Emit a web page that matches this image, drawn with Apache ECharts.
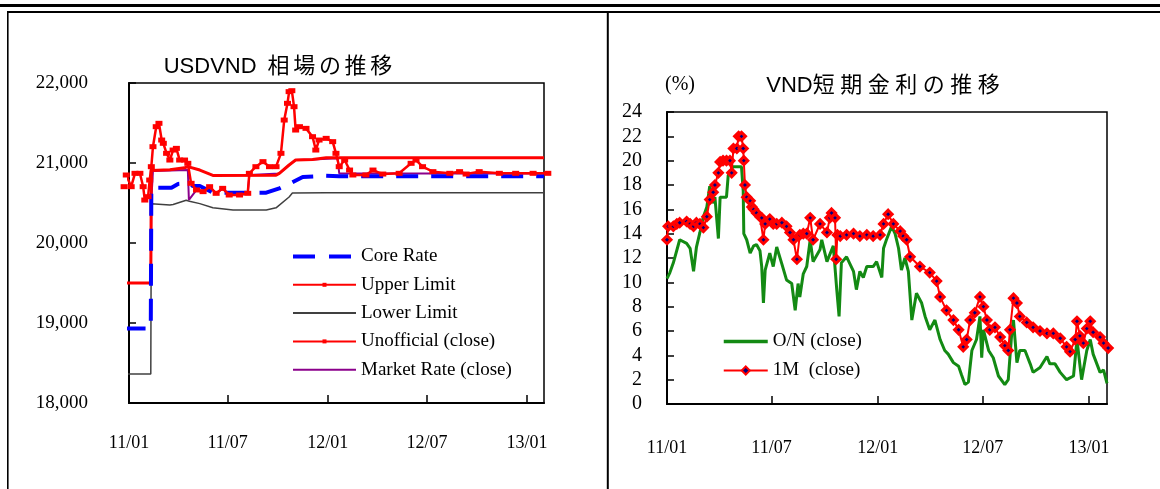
<!DOCTYPE html>
<html><head><meta charset="utf-8">
<script src="https://cdn.jsdelivr.net/npm/echarts@6/dist/echarts.min.js"></script>
<style>html,body{margin:0;padding:0;background:#fff}#c{width:1160px;height:489px}</style>
</head><body><div id="c"></div>
<script>
// ---------- tick labels ----------
const xTickDates = ['2011-01-01','2011-07-01','2012-01-01','2012-07-01','2013-01-01'];
const xTickLabels = ['11/01','11/07','12/01','12/07','13/01'];
const xMin = '2011-01-01', xMax = '2013-02-01';

// ---------- USDVND chart ----------
const coreRate = [['2010-12-22',18932],['2011-02-10',18932],['2011-02-11',20692],['2011-03-20',20692],['2011-04-01',20738],['2011-04-22',20750],['2011-04-28',20713],['2011-05-11',20713],['2011-06-04',20629],['2011-09-10',20629],['2011-10-04',20683],['2011-10-28',20760],['2011-11-16',20825],['2011-12-29',20840],['2012-01-22',20835],['2013-02-01',20835]];
const upperLimit = [['2010-12-22',19500],['2011-02-10',19500],['2011-02-11',20905],['2011-03-17',20915],['2011-04-13',20940],['2011-04-19',20955],['2011-05-11',20912],['2011-06-04',20845],['2011-09-28',20848],['2011-10-04',20870],['2011-10-22',20975],['2011-11-03',21037],['2011-12-04',21045],['2011-12-29',21065],['2012-02-01',21065],['2013-02-01',21065]];
const lowerLimit = [['2010-12-22',18364],['2011-02-10',18364],['2011-02-11',20490],['2011-03-17',20475],['2011-03-20',20500],['2011-03-23',20482],['2011-04-16',20535],['2011-04-22',20522],['2011-05-11',20492],['2011-06-04',20440],['2011-07-11',20412],['2011-09-10',20412],['2011-09-28',20440],['2011-10-22',20575],['2011-10-28',20625],['2011-12-29',20628],['2013-02-01',20628]];
const unofficial = [['2010-12-23',20704],['2010-12-27',20850],['2011-01-05',20704],['2011-01-12',20871],['2011-01-21',20871],['2011-01-27',20704],['2011-01-30',20537],['2011-02-05',20579],['2011-02-08',20787],['2011-02-11',20954],['2011-02-14',21204],['2011-02-20',21454],['2011-02-25',21496],['2011-03-02',21287],['2011-03-05',21246],['2011-03-11',21121],['2011-03-17',21037],['2011-03-23',21162],['2011-03-29',21183],['2011-04-04',21037],['2011-04-13',21037],['2011-04-19',20996],['2011-04-25',20746],['2011-05-05',20663],['2011-05-17',20642],['2011-05-29',20704],['2011-06-10',20621],['2011-06-22',20683],['2011-07-04',20600],['2011-07-23',20600],['2011-08-07',20621],['2011-08-10',20871],['2011-08-22',20954],['2011-09-04',21017],['2011-09-16',20954],['2011-09-28',20954],['2011-10-07',21121],['2011-10-13',21537],['2011-10-19',21746],['2011-10-22',21892],['2011-10-27',21904],['2011-10-31',21704],['2011-11-03',21412],['2011-11-10',21454],['2011-11-22',21433],['2011-12-04',21329],['2011-12-10',21162],['2011-12-16',21287],['2011-12-29',21308],['2012-01-10',21267],['2012-01-16',21121],['2012-01-22',20954],['2012-02-01',21037],['2012-02-10',20912],['2012-02-16',20850],['2012-03-11',20850],['2012-03-24',20912],['2012-04-11',20862],['2012-05-11',20871],['2012-06-02',20996],['2012-06-11',21037],['2012-06-23',20954],['2012-07-12',20892],['2012-08-12',20871],['2012-08-30',20892],['2012-09-11',20862],['2012-10-05',20892],['2012-11-11',20871],['2012-12-11',20871],['2013-01-12',20871],['2013-02-08',20871]];
const marketRate = [['2010-12-22',19500],['2011-02-10',19500],['2011-02-11',20540],['2011-02-14',20900],['2011-04-19',20912],['2011-04-21',20540],['2011-05-05',20663],['2011-05-17',20642],['2011-05-29',20700],['2011-06-10',20621],['2011-06-22',20680],['2011-07-04',20600],['2011-07-23',20600],['2011-08-07',20621],['2011-08-10',20850],['2011-10-04',20868],['2011-10-22',20975],['2011-11-03',21037],['2011-12-04',21045],['2012-01-19',21060],['2012-01-22',20870],['2013-02-01',20870]];

// ---------- VND rates chart ----------
const rate1M = [['2011-01-01',13.5],['2011-01-03',14.6],['2011-01-12',14.6],['2011-01-18',14.8],['2011-01-23',14.9],['2011-02-04',15.0],['2011-02-10',14.8],['2011-02-16',14.6],['2011-02-21',14.9],['2011-02-27',14.8],['2011-03-05',14.5],['2011-03-11',15.4],['2011-03-16',16.8],['2011-03-22',17.4],['2011-03-25',18.0],['2011-03-31',19.0],['2011-04-03',19.9],['2011-04-08',20.0],['2011-04-14',20.0],['2011-04-20',20.0],['2011-04-23',19.0],['2011-04-26',21.0],['2011-05-02',21.0],['2011-05-05',22.0],['2011-05-10',22.0],['2011-05-13',21.0],['2011-05-14',20.0],['2011-05-16',18.0],['2011-05-19',17.0],['2011-05-25',16.7],['2011-05-28',16.2],['2011-05-31',16.0],['2011-06-05',15.7],['2011-06-11',15.4],['2011-06-14',15.3],['2011-06-17',13.5],['2011-06-20',14.8],['2011-06-28',15.2],['2011-07-04',14.8],['2011-07-10',14.8],['2011-07-19',14.9],['2011-07-27',14.6],['2011-08-02',14.1],['2011-08-08',13.5],['2011-08-14',11.9],['2011-08-19',13.9],['2011-08-25',14.0],['2011-08-31',14.0],['2011-09-06',15.3],['2011-09-11',13.5],['2011-09-23',14.8],['2011-10-05',14.1],['2011-10-10',15.3],['2011-10-13',15.7],['2011-10-19',15.3],['2011-10-21',11.9],['2011-10-23',13.9],['2011-10-28',13.8],['2011-11-08',13.9],['2011-11-20',14.0],['2011-12-01',13.8],['2011-12-13',13.9],['2011-12-24',13.8],['2012-01-05',13.9],['2012-01-11',14.8],['2012-01-19',15.6],['2012-01-28',14.8],['2012-02-09',14.2],['2012-02-14',13.8],['2012-02-20',13.5],['2012-02-26',12.1],['2012-03-14',11.3],['2012-03-31',10.8],['2012-04-12',10.1],['2012-04-18',8.8],['2012-04-29',7.7],['2012-05-11',6.9],['2012-05-20',6.1],['2012-05-28',4.7],['2012-06-03',5.3],['2012-06-09',6.9],['2012-06-17',7.5],['2012-06-26',8.8],['2012-07-02',8.0],['2012-07-08',6.9],['2012-07-13',6.1],['2012-07-22',6.3],['2012-07-31',5.5],['2012-08-08',4.8],['2012-08-14',4.4],['2012-08-17',6.1],['2012-08-23',8.7],['2012-08-29',8.3],['2012-09-03',7.2],['2012-09-15',6.7],['2012-09-26',6.3],['2012-10-08',6.0],['2012-10-20',5.8],['2012-10-31',5.8],['2012-11-12',5.4],['2012-11-23',4.7],['2012-11-29',4.3],['2012-12-08',5.3],['2012-12-11',6.8],['2012-12-16',5.6],['2012-12-22',5.0],['2012-12-28',6.2],['2013-01-03',6.8],['2013-01-08',5.9],['2013-01-20',5.5],['2013-01-26',5.0],['2013-02-03',4.6]];
const rateON = [['2011-01-01',10.3],['2011-01-06',10.8],['2011-01-12',11.6],['2011-01-23',13.5],['2011-01-26',13.5],['2011-02-04',13.2],['2011-02-10',12.8],['2011-02-16',10.9],['2011-02-21',12.9],['2011-02-27',14.1],['2011-03-05',15.4],['2011-03-11',16.2],['2011-03-16',17.9],['2011-03-22',16.5],['2011-03-25',17.0],['2011-03-31',13.6],['2011-04-03',17.0],['2011-04-14',17.0],['2011-04-17',18.8],['2011-04-20',19.0],['2011-04-25',19.5],['2011-05-10',19.5],['2011-05-13',17.5],['2011-05-14',14.0],['2011-05-19',13.5],['2011-05-25',12.4],['2011-05-31',13.0],['2011-06-05',13.1],['2011-06-11',12.6],['2011-06-14',11.3],['2011-06-17',8.3],['2011-06-20',11.0],['2011-06-28',12.4],['2011-07-04',11.3],['2011-07-10',12.9],['2011-07-19',11.5],['2011-07-27',10.2],['2011-08-05',9.9],['2011-08-11',7.7],['2011-08-16',9.9],['2011-08-19',8.8],['2011-08-25',10.7],['2011-08-31',11.3],['2011-09-06',13.5],['2011-09-11',11.7],['2011-09-23',12.7],['2011-09-26',13.5],['2011-10-05',11.7],['2011-10-16',13.0],['2011-10-22',9.4],['2011-10-26',7.2],['2011-10-30',11.6],['2011-11-08',12.1],['2011-11-20',10.9],['2011-11-25',9.4],['2011-12-01',10.9],['2011-12-07',10.4],['2011-12-13',11.3],['2011-12-24',11.3],['2011-12-30',11.7],['2012-01-08',10.4],['2012-01-11',12.8],['2012-01-16',13.5],['2012-01-25',14.6],['2012-01-31',14.0],['2012-02-06',12.8],['2012-02-11',11.0],['2012-02-17',12.0],['2012-02-23',10.9],['2012-02-29',6.9],['2012-03-08',9.1],['2012-03-17',8.3],['2012-03-23',7.2],['2012-03-31',6.1],['2012-04-09',6.9],['2012-04-18',5.3],['2012-04-26',4.4],['2012-05-02',4.1],['2012-05-11',3.4],['2012-05-20',3.1],['2012-05-25',2.4],['2012-05-31',1.6],['2012-06-06',1.8],['2012-06-12',4.4],['2012-06-20',5.3],['2012-06-26',7.2],['2012-06-29',3.8],['2012-07-02',6.1],['2012-07-11',4.4],['2012-07-19',3.8],['2012-07-28',2.3],['2012-08-08',1.6],['2012-08-14',2.0],['2012-08-20',5.8],['2012-08-23',6.9],['2012-08-29',3.4],['2012-09-03',4.4],['2012-09-12',4.4],['2012-09-21',3.3],['2012-09-26',2.6],['2012-10-08',3.0],['2012-10-20',3.9],['2012-10-25',3.3],['2012-11-03',3.3],['2012-11-12',2.6],['2012-11-23',2.0],['2012-12-05',2.3],['2012-12-11',5.3],['2012-12-19',2.0],['2012-12-28',4.4],['2013-01-03',5.3],['2013-01-08',4.1],['2013-01-20',2.6],['2013-01-26',2.8],['2013-02-01',1.7]];

// ---------- rendering ----------
const T = s => new Date(s + 'T00:00:00').getTime();
const P = arr => arr.map(d => [T(d[0]), d[1]]);
const tickVals = xTickDates.map(T);
const tickLabel = v => { for (let i = 0; i < tickVals.length; i++) if (Math.abs(tickVals[i] - v) < 86400000) return xTickLabels[i]; return ''; };
const SERIF = "'Liberation Serif', 'Times New Roman', serif";
const SANS = "'Liberation Sans', 'Noto Sans CJK JP', sans-serif";
const NOICON = { color: 'rgba(0,0,0,0)', borderWidth: 0 };

function xAxisCfg(gi, margin) {
  return {
    type: 'value', gridIndex: gi, min: T(xMin), max: T(xMax),
    axisLine: { lineStyle: { color: '#000', width: 2 } },
    axisTick: { inside: true, length: 8, lineStyle: { color: '#000', width: 1.5 }, customValues: tickVals },
    axisLabel: { customValues: tickVals, formatter: tickLabel, margin: margin, color: '#000', fontFamily: SERIF, fontSize: 18, showMinLabel: true, showMaxLabel: true, hideOverlap: false },
    splitLine: { show: false }
  };
}
function yAxisCfg(gi, min, max, interval, margin, fmt, fs) {
  return {
    type: 'value', gridIndex: gi, min: min, max: max, interval: interval,
    axisLine: { show: true, lineStyle: { color: '#000', width: 2 } },
    axisTick: { show: true, inside: true, length: 7, lineStyle: { color: '#000', width: 1.5 } },
    axisLabel: { margin: margin, color: '#000', fontFamily: SERIF, fontSize: fs, formatter: fmt },
    splitLine: { show: false }
  };
}
const chart = echarts.init(document.getElementById('c'), null, { renderer: 'canvas' });
const lineGraphic = (x, y, w, h) => ({ type: 'rect', shape: { x: x, y: y, width: w, height: h }, style: { fill: '#000' }, silent: true });
chart.setOption({
  animation: false,
  backgroundColor: '#fff',
  graphic: [
    lineGraphic(0, 4, 1160, 3),
    lineGraphic(7, 11, 1153, 2),
    lineGraphic(7, 11, 1.6, 478),
    lineGraphic(606.8, 11, 2, 478),
    { type: 'text', x: 278, y: 67, style: { text: 'USDVND\u2002相\u2006場\u2006の\u2006推\u2006移', font: '22px ' + SANS, fill: '#000', align: 'center', verticalAlign: 'middle' } },
    { type: 'text', x: 883, y: 86, style: { text: 'VND短\u2005期\u2005金\u2005利\u2005の\u2005推\u2005移', font: '22px ' + SANS, fill: '#000', align: 'center', verticalAlign: 'middle' } },
    { type: 'text', x: 680, y: 85, style: { text: '(%)', font: '20px ' + SERIF, fill: '#000', align: 'center', verticalAlign: 'middle' } }
  ],
  grid: [
    { left: 129, top: 83, width: 415, height: 320, show: true, borderColor: '#000', borderWidth: 1.5, backgroundColor: 'transparent' },
    { left: 667, top: 112, width: 440, height: 292, show: true, borderColor: '#000', borderWidth: 1.5, backgroundColor: 'transparent' }
  ],
  xAxis: [xAxisCfg(0, 31), xAxisCfg(1, 35)],
  yAxis: [
    yAxisCfg(0, 18000, 22000, 1000, 41, v => v.toLocaleString('en-US'), 19),
    yAxisCfg(1, 0, 24, 2, 25, v => String(v), 20)
  ],
  legend: [
    { orient: 'vertical', left: 286, top: 242, itemWidth: 63, itemHeight: 5, itemGap: 9.3, textStyle: { fontFamily: SERIF, fontSize: 19, color: '#000', lineHeight: 19 },
      data: [
        { name: 'Core Rate', itemStyle: NOICON, lineStyle: { width: 4, type: [22, 14] } },
        { name: 'Upper Limit', lineStyle: { width: 2 } },
        { name: 'Lower Limit', itemStyle: NOICON, lineStyle: { width: 2 } },
        { name: 'Unofficial (close)', lineStyle: { width: 2 } },
        { name: 'Market Rate (close)', itemStyle: NOICON, lineStyle: { width: 2 } }
      ] },
    { orient: 'vertical', left: 717, top: 327, itemWidth: 44, itemHeight: 10, itemGap: 10, textStyle: { fontFamily: SERIF, fontSize: 19, color: '#000', lineHeight: 19 },
      data: [{ name: 'O/N (close)', itemStyle: NOICON, lineStyle: { width: 3.5 } }, { name: '1M  (close)', lineStyle: { width: 2 } }] }
  ],
  series: [
    { name: 'Lower Limit', type: 'line', xAxisIndex: 0, yAxisIndex: 0, data: P(lowerLimit), symbol: 'none', clip: false,
      lineStyle: { color: '#404040', width: 1.5 }, itemStyle: { color: '#404040' } },
    { name: 'Market Rate (close)', type: 'line', xAxisIndex: 0, yAxisIndex: 0, data: P(marketRate), symbol: 'none', clip: false,
      lineStyle: { color: '#8b008b', width: 2 }, itemStyle: { color: '#8b008b' } },
    { name: 'Upper Limit', type: 'line', xAxisIndex: 0, yAxisIndex: 0, data: P(upperLimit), symbol: 'rect', symbolSize: [3, 4], showSymbol: false, clip: false,
      lineStyle: { color: '#ff0000', width: 3 }, itemStyle: { color: '#ff0000' } },
    { name: 'Core Rate', type: 'line', xAxisIndex: 0, yAxisIndex: 0, data: P(coreRate), symbol: 'none', clip: false,
      lineStyle: { color: '#0000ff', width: 4, type: [22, 13] }, itemStyle: { color: '#0000ff' } },
    { name: 'Unofficial (close)', type: 'line', xAxisIndex: 0, yAxisIndex: 0, data: P(unofficial), symbol: 'rect', symbolSize: [7, 5], clip: false,
      lineStyle: { color: '#ff0000', width: 2.5 }, itemStyle: { color: '#ff0000' } },
    { name: 'O/N (close)', type: 'line', xAxisIndex: 1, yAxisIndex: 1, data: P(rateON), symbol: 'none', clip: false,
      lineStyle: { color: '#138a13', width: 3 }, itemStyle: { color: '#138a13' } },
    { name: '1M  (close)', type: 'line', xAxisIndex: 1, yAxisIndex: 1, data: P(rate1M), symbol: 'diamond', symbolSize: 8, clip: false,
      lineStyle: { color: '#ff0000', width: 2 }, itemStyle: { color: '#000080', borderColor: '#ff0000', borderWidth: 3 } }
  ]
});
</script></body></html>
